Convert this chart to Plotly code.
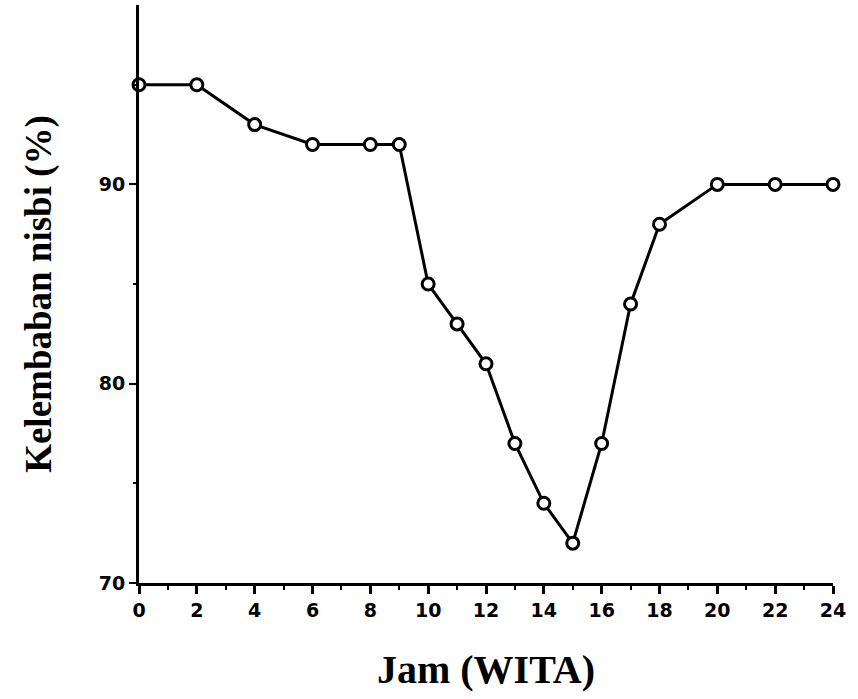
import plotly.graph_objects as go

jam = [0, 2, 4, 6, 8, 9, 10, 11, 12, 13, 14, 15, 16, 17, 18, 20, 22, 24]
kelembaban = [95, 95, 93, 92, 92, 92, 85, 83, 81, 77, 74, 72, 77, 84, 88, 90, 90, 90]
x_ticks = [0, 2, 4, 6, 8, 10, 12, 14, 16, 18, 20, 22, 24]
y_ticks = [70, 80, 90]

fig = go.Figure()
fig.add_trace(go.Scatter(
    x=jam, y=kelembaban, mode="lines+markers",
    line=dict(color="black", width=3),
    marker=dict(symbol="circle", size=12, color="white",
                line=dict(color="black", width=3)),
    cliponaxis=False, showlegend=False,
))

fig.update_layout(
    width=858, height=699,
    margin=dict(l=139, r=25, t=5, b=116),
    paper_bgcolor="white", plot_bgcolor="white",
    xaxis=dict(
        range=[0, 24], tickvals=x_ticks, showgrid=False, zeroline=False,
        showline=True, linecolor="black", linewidth=3,
        ticks="outside", ticklen=8, tickwidth=3, tickcolor="black",
        minor=dict(dtick=1, ticks="outside", ticklen=4, tickwidth=2, tickcolor="black", showgrid=False),
        tickfont=dict(family="DejaVu Sans", size=19, color="black", weight="bold"),
        title=dict(text="Jam (WITA)", standoff=36,
                   font=dict(family="Liberation Serif", size=40, color="black", weight="bold")),
    ),
    yaxis=dict(
        range=[70, 99], tickvals=y_ticks, showgrid=False, zeroline=False,
        showline=True, linecolor="black", linewidth=3,
        ticks="outside", ticklen=7, tickwidth=2, tickcolor="black",
        minor=dict(tickvals=[75, 85, 95], ticks="outside", ticklen=3, tickwidth=2, tickcolor="black", showgrid=False),
        tickfont=dict(family="DejaVu Sans", size=19, color="black", weight="bold"),
        title=dict(text="Kelembaban nisbi (%)", standoff=36,
                   font=dict(family="Liberation Serif", size=37, color="black", weight="bold")),
    ),
)
fig.update_xaxes(tickfont_size=19)
fig.update_yaxes(tickfont_size=19)
fig.write_html("out.html")
